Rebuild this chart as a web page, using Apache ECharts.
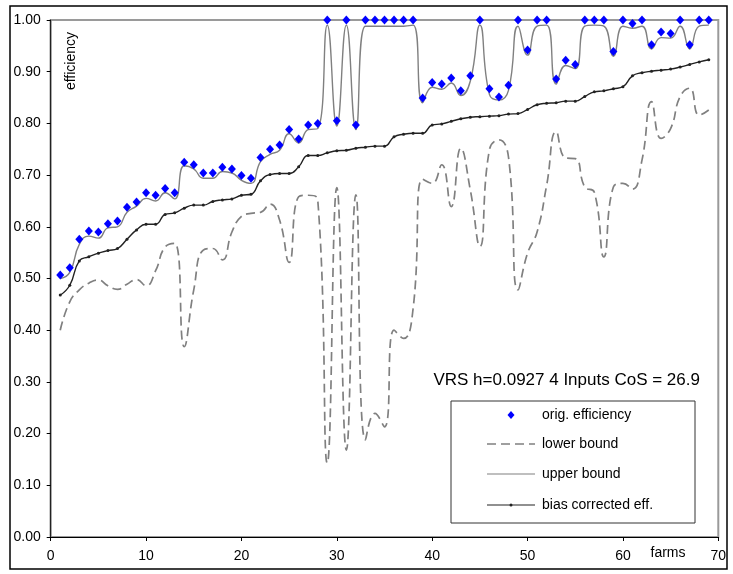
<!DOCTYPE html>
<html>
<head>
<meta charset="utf-8">
<script src="https://cdn.jsdelivr.net/npm/echarts@6/dist/echarts.min.js"></script>
<style>
html,body{margin:0;padding:0;background:#fff;}
#chart{width:733px;height:574px;}
</style>
</head>
<body>
<div id="chart"></div>
<script>
var farms = [1,2,3,4,5,6,7,8,9,10,11,12,13,14,15,16,17,18,19,20,21,22,23,24,25,26,27,28,29,30,31,32,33,34,35,36,37,38,39,40,41,42,43,44,45,46,47,48,49,50,51,52,53,54,55,56,57,58,59,60,61,62,63,64,65,66,67,68,69];

var origEfficiency = [0.507,0.521,0.576,0.592,0.590,0.606,0.611,0.638,0.648,0.666,0.661,0.674,0.666,0.725,0.720,0.704,0.704,0.715,0.712,0.699,0.694,0.734,0.750,0.758,0.788,0.770,0.797,0.800,1.000,0.805,1.000,0.797,1.000,1.000,1.000,1.000,1.000,1.000,0.849,0.879,0.876,0.888,0.863,0.892,1.000,0.867,0.851,0.874,1.000,0.942,1.000,1.000,0.886,0.922,0.914,1.000,1.000,1.000,0.939,1.000,0.993,1.000,0.952,0.977,0.974,1.000,0.952,1.000,1.000];

var lowerBound = [0.400,0.455,0.478,0.491,0.497,0.486,0.479,0.489,0.498,0.486,0.515,0.561,0.568,0.368,0.478,0.555,0.558,0.536,0.590,0.620,0.626,0.628,0.644,0.613,0.531,0.658,0.661,0.652,0.143,0.676,0.168,0.662,0.188,0.239,0.213,0.400,0.384,0.442,0.692,0.684,0.720,0.639,0.752,0.671,0.562,0.749,0.768,0.735,0.478,0.549,0.590,0.680,0.784,0.733,0.732,0.677,0.667,0.542,0.677,0.684,0.673,0.729,0.842,0.771,0.790,0.852,0.868,0.816,0.826];

var upperBound = [0.500,0.512,0.566,0.582,0.578,0.598,0.600,0.628,0.640,0.655,0.650,0.666,0.654,0.718,0.712,0.694,0.694,0.707,0.704,0.690,0.684,0.726,0.740,0.748,0.780,0.762,0.788,0.790,0.990,0.795,0.990,0.788,0.988,0.988,0.988,0.988,0.988,0.990,0.840,0.870,0.866,0.878,0.854,0.882,0.990,0.856,0.845,0.864,0.988,0.932,0.988,0.990,0.876,0.912,0.906,0.988,0.990,0.988,0.930,0.988,0.984,0.988,0.944,0.966,0.965,0.988,0.944,0.988,0.990];

var biasCorrected = [0.468,0.487,0.534,0.542,0.549,0.554,0.558,0.576,0.594,0.605,0.605,0.624,0.627,0.636,0.642,0.642,0.649,0.652,0.654,0.661,0.663,0.689,0.701,0.703,0.703,0.716,0.738,0.738,0.743,0.747,0.748,0.752,0.754,0.756,0.756,0.774,0.779,0.781,0.781,0.797,0.799,0.804,0.809,0.812,0.813,0.814,0.815,0.818,0.819,0.827,0.836,0.839,0.840,0.843,0.843,0.852,0.861,0.863,0.867,0.871,0.892,0.898,0.901,0.903,0.905,0.909,0.914,0.919,0.923];

var yTicks = [0,0.1,0.2,0.3,0.4,0.5,0.6,0.7,0.8,0.9,1.0];
var xTicks = [0,10,20,30,40,50,60,70];

var seriesNames = ['orig. efficiency','lower bound','upper bound','bias corrected eff.'];
var annotation = 'VRS h=0.0927 4 Inputs CoS = 26.9';

function pairs(vals){ return farms.map(function(f,i){ return [f, vals[i]]; }); }

var FONT = '"Liberation Sans", Arial, sans-serif';
var chart = echarts.init(document.getElementById('chart'), null, {renderer:'canvas'});

var legendRows = [415, 444, 474, 505];
var lx0 = 487, lx1 = 535, lxc = 511, ltx = 542;

var graphics = [
  {type:'rect', shape:{x:10, y:6, width:717, height:563}, style:{fill:'none', stroke:'#000', lineWidth:1.5}, z:100},
  {type:'text', x:566.7, y:380, style:{text:annotation, font:'17px ' + FONT, fill:'#000', textAlign:'center', textVerticalAlign:'middle'}, z:100},
  {type:'text', x:71, y:61, rotation:Math.PI/2, style:{text:'efficiency', font:'14px ' + FONT, fill:'#000', textAlign:'center', textVerticalAlign:'middle'}, z:100},
  {type:'text', x:668, y:553, style:{text:'farms', font:'14px ' + FONT, fill:'#000', textAlign:'center', textVerticalAlign:'middle'}, z:100},
  {type:'rect', shape:{x:451, y:401, width:244, height:122}, style:{fill:'#fff', stroke:'#333', lineWidth:1}, z:100},
  {type:'polygon', shape:{points:[[lxc, legendRows[0]-4],[lxc+3.5, legendRows[0]],[lxc, legendRows[0]+4],[lxc-3.5, legendRows[0]]]}, style:{fill:'#0000ff'}, z:101},
  {type:'line', shape:{x1:lx0, y1:legendRows[1], x2:lx1, y2:legendRows[1]}, style:{stroke:'#808080', lineWidth:1.6, lineDash:[9,5]}, z:101},
  {type:'line', shape:{x1:lx0, y1:legendRows[2], x2:lx1, y2:legendRows[2]}, style:{stroke:'#808080', lineWidth:1.2}, z:101},
  {type:'line', shape:{x1:lx0, y1:legendRows[3], x2:lx1, y2:legendRows[3]}, style:{stroke:'#222', lineWidth:1.2}, z:101},
  {type:'circle', shape:{cx:lxc, cy:legendRows[3], r:1.5}, style:{fill:'#222'}, z:101}
];
seriesNames.forEach(function(n,i){
  graphics.push({type:'text', x:ltx, y:legendRows[i], style:{text:n, font:'14px ' + FONT, fill:'#000', textVerticalAlign:'middle'}, z:101});
});

var option = {
  animation:false,
  backgroundColor:'#fff',
  textStyle:{fontFamily:FONT},
  grid:{left:50.7, right:14.7, top:20, bottom:37, show:true, borderColor:'#9a9a9a', borderWidth:2, backgroundColor:'transparent'},
  xAxis:{
    type:'value', min:xTicks[0], max:xTicks[xTicks.length-1], interval:10,
    axisLine:{show:true, onZero:false, lineStyle:{color:'#000', width:1.2}},
    axisTick:{show:true, length:4, lineStyle:{color:'#000'}},
    axisLabel:{fontSize:14, color:'#000', margin:12, fontFamily:FONT},
    splitLine:{show:false}
  },
  yAxis:{
    type:'value', min:yTicks[0], max:yTicks[yTicks.length-1], interval:0.1,
    axisLine:{show:true, lineStyle:{color:'#222', width:1.2}},
    axisTick:{show:true, length:4, lineStyle:{color:'#000'}},
    axisLabel:{fontSize:14, color:'#000', margin:10, fontFamily:FONT, formatter:function(v){return v.toFixed(2);}},
    splitLine:{show:false}
  },
  graphic:graphics,
  series:[
    {name:seriesNames[1], type:'line', data:pairs(lowerBound), smooth:0.5, symbol:'none',
     lineStyle:{color:'#808080', width:1.7, type:[9,5]}, z:2},
    {name:seriesNames[2], type:'line', data:pairs(upperBound), smooth:0.5, symbol:'none',
     lineStyle:{color:'#808080', width:1.4}, z:3},
    {name:seriesNames[3], type:'line', data:pairs(biasCorrected), smooth:0.5, symbol:'circle', symbolSize:3,
     itemStyle:{color:'#222'}, lineStyle:{color:'#222', width:1.4}, z:4},
    {name:seriesNames[0], type:'scatter', data:pairs(origEfficiency), symbol:'diamond', symbolSize:[8,9],
     itemStyle:{color:'#0000ff', opacity:1, borderWidth:0}, z:5}
  ]
};
chart.setOption(option);
</script>
</body>
</html>
